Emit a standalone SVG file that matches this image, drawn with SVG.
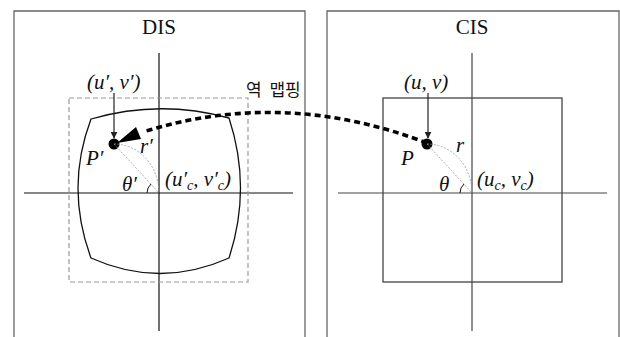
<svg xmlns="http://www.w3.org/2000/svg" width="620" height="337" viewBox="0 0 620 337">
<defs>
<style>
.frame{fill:none;stroke:#666;stroke-width:1.3}
.axis{stroke:#111;stroke-width:1.2}
.axis2{stroke:#444;stroke-width:1.2}
.title{font-family:"Liberation Serif","DejaVu Serif",serif;font-size:21px;fill:#111;text-anchor:middle}
.m{font-family:"Liberation Serif","DejaVu Serif",serif;font-style:italic;font-size:21px;fill:#111}
.sub{font-size:14px}
.guide{fill:none;stroke:#999;stroke-width:0.8;stroke-dasharray:2,1.5}
.ptr{stroke:#222;stroke-width:1.2;fill:none}
.kr{font-family:"Noto Sans CJK KR",sans-serif;font-size:17px;fill:#111;word-spacing:4px}
</style>
<marker id="ah" viewBox="0 0 10 10" refX="9" refY="5" markerWidth="7" markerHeight="7" markerUnits="userSpaceOnUse" orient="auto">
<path d="M0,0 L10,5 L0,10 Z" fill="#222"/>
</marker>
</defs>
<rect width="620" height="337" fill="#fff"/>

<g id="dis-panel">
<path class="frame" d="M14,340 V11 H305 V340"/>
<text class="title" x="159" y="34">DIS</text>
<line class="axis" x1="159" y1="53" x2="159" y2="331"/>
<line class="axis" x1="24" y1="193" x2="293" y2="193"/>
<rect x="69" y="98" width="179" height="184" fill="none" stroke="#999" stroke-width="1.2" stroke-dasharray="5,3"/>
<path d="M91,119 Q160,99 229,118 Q252,188 229,258 Q160,289 91,258 Q65,188 91,119 Z" fill="none" stroke="#111" stroke-width="1.3"/>
</g>

<g id="dis-point">
<text class="m" x="87" y="89">(u′, v′)</text>
<line class="ptr" x1="114" y1="93" x2="114" y2="138" marker-end="url(#ah)"/>
<circle cx="114" cy="144" r="5.5" fill="#000"/>
<text class="m" x="86" y="165">P′</text>
<text class="m" x="140" y="153">r′</text>
<path class="guide" d="M114,144 L159,193"/>
<path class="guide" d="M114,144 A45,49 0 0 1 159,193"/>
<path d="M147,193 A12,12 0 0 1 151,184" fill="none" stroke="#111" stroke-width="1"/>
<text class="m" x="122" y="191">θ′</text>
<text class="m" x="165" y="186">(u′<tspan class="sub" dy="4">c</tspan><tspan dy="-4">, v′</tspan><tspan class="sub" dy="4">c</tspan><tspan dy="-4">)</tspan></text>
</g>

<g id="cis-panel">
<path class="frame" d="M327,340 V11 H619 V340"/>
<text class="title" x="472" y="34">CIS</text>
<line class="axis2" x1="472" y1="53" x2="472" y2="331"/>
<line class="axis2" x1="338" y1="193" x2="607" y2="193"/>
<rect x="383" y="98" width="179" height="184" fill="none" stroke="#444" stroke-width="1.3"/>
</g>

<g id="cis-point">
<text class="m" x="404" y="89">(u, v)</text>
<line class="ptr" x1="428" y1="93" x2="428" y2="138" marker-end="url(#ah)"/>
<circle cx="427" cy="144" r="5.5" fill="#000"/>
<text class="m" x="401" y="165">P</text>
<text class="m" x="456" y="152">r</text>
<path class="guide" d="M427,144 L472,193"/>
<path class="guide" d="M427,144 A45,49 0 0 1 472,193"/>
<path d="M460,193 A12,12 0 0 1 464,184" fill="none" stroke="#111" stroke-width="1"/>
<text class="m" x="439" y="191">θ</text>
<text class="m" x="477" y="186">(u<tspan class="sub" dy="4">c</tspan><tspan dy="-4">, v</tspan><tspan class="sub" dy="4">c</tspan><tspan dy="-4">)</tspan></text>
</g>

<g id="connectors">
<path d="M427,143 Q283,88 143,132" fill="none" stroke="#000" stroke-width="3.6" stroke-dasharray="6,4"/>
<polygon points="117,143 136,127 141,139" fill="#000"/>
<text class="kr" x="246" y="96">역 맵핑</text>
</g>
</svg>
